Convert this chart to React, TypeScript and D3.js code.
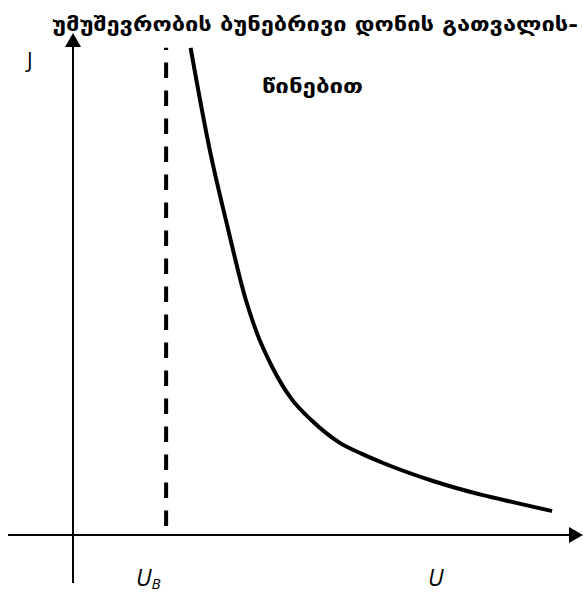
import React from "react";
import * as d3 from "d3";

const titleLines = ["უმუშევრობის ბუნებრივი დონის გათვალის-", "წინებით"];
const yAxisLabel = "J";
const xAxisLabel = "U";
const naturalLabel = "U";
const naturalSub = "B";

// Curve: unemployment (U) vs. J, arbitrary units
const curveU = [2.45, 2.85, 3.21, 3.6, 3.83, 4.15, 4.54, 4.98, 5.56, 6.02, 6.46, 7.5, 8.54, 9.23, 9.98];
const curveJ = [10.15, 8.02, 6.46, 4.9, 4.21, 3.5, 2.85, 2.38, 1.92, 1.69, 1.5, 1.125, 0.83, 0.67, 0.5];
const naturalU = 1.94;
const naturalTopJ = 10.15;

const W = 583;
const H = 593;

export default function App() {
  const x = d3.scaleLinear().domain([0, 10]).range([73, 553]);
  const y = d3.scaleLinear().domain([0, 10]).range([535, 55]);

  const pts: [number, number][] = curveU.map((u, i) => [u, curveJ[i]]);
  const line = d3
    .line<[number, number]>()
    .x((d) => x(d[0]))
    .y((d) => y(d[1]))
    .curve(d3.curveMonotoneX);

  const ox = x(0);
  const oy = y(0);

  return (
    <svg
      width={W}
      height={H}
      style={{ position: "absolute", left: 0, top: 0, background: "#fff" }}
    >
      <rect x={0} y={0} width={W} height={H} fill="#fff" />
      {/* x axis */}
      <line x1={8} y1={oy} x2={571} y2={oy} stroke="#000" strokeWidth={2} />
      <path d={`M583,${oy} L569,${oy - 8} L569,${oy + 8} Z`} fill="#000" />
      {/* y axis */}
      <line x1={ox} y1={583} x2={ox} y2={45} stroke="#000" strokeWidth={2} />
      <path d={`M${ox},33 L${ox - 8},47 L${ox + 8},47 Z`} fill="#000" />

      {/* natural rate dashed line */}
      <line
        x1={x(naturalU)}
        y1={526}
        x2={x(naturalU)}
        y2={y(naturalTopJ)}
        stroke="#000"
        strokeWidth={4}
        strokeDasharray="15.5 12.5"
      />

      {/* curve */}
      <path d={line(pts) || ""} fill="none" stroke="#000" strokeWidth={4} />

      {/* title */}
      <text
        x={52}
        y={31}
        fontFamily="DejaVu Sans"
        fontWeight="bold"
        fontSize={20}
        textLength={526}
        lengthAdjust="spacingAndGlyphs"
      >
        {titleLines[0]}
      </text>
      <text
        x={262}
        y={93}
        fontFamily="DejaVu Sans"
        fontWeight="bold"
        fontSize={20}
        textLength={101}
        lengthAdjust="spacingAndGlyphs"
      >
        {titleLines[1]}
      </text>

      {/* axis labels */}
      <text x={27} y={68} fontFamily="Open Sans" fontSize={21}>
        {yAxisLabel}
      </text>
      <text x={136} y={586} fontFamily="Open Sans" fontStyle="italic" fontSize={23}>
        {naturalLabel}
        <tspan fontSize={15} dy={3}>
          {naturalSub}
        </tspan>
      </text>
      <text x={428} y={586} fontFamily="Open Sans" fontStyle="italic" fontSize={23}>
        {xAxisLabel}
      </text>
    </svg>
  );
}
